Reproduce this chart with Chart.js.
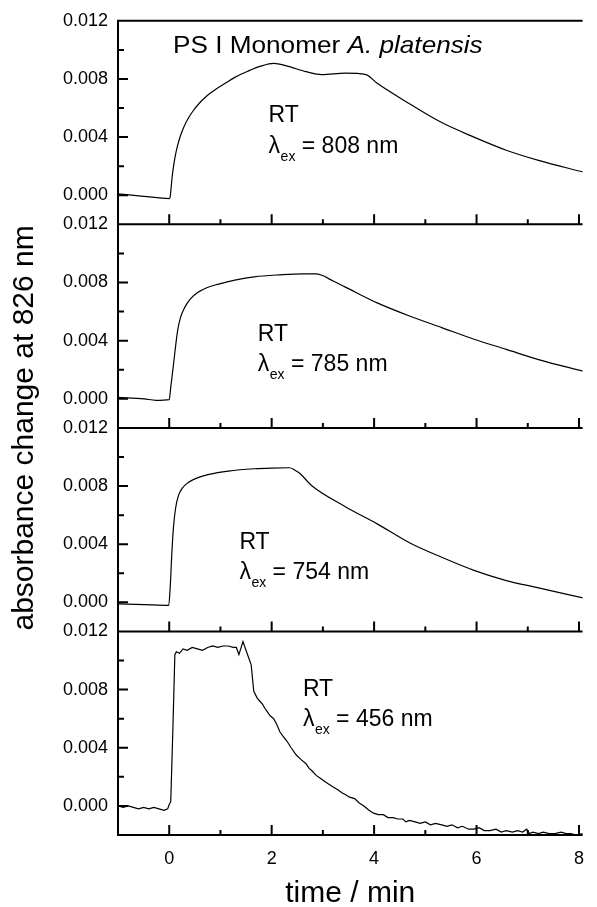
<!DOCTYPE html>
<html>
<head>
<meta charset="utf-8">
<script src="https://cdn.jsdelivr.net/npm/chart.js@4.4.0/dist/chart.umd.min.js"></script>
<style>
  html, body { margin: 0; padding: 0; background: #fff; }
  #wrap { width: 597px; height: 907px; position: relative; }
</style>
</head>
<body>
<div id="wrap"><canvas id="c"></canvas></div>
<script>
// absorbance change at 826 nm vs time, one trace per excitation wavelength
const t808 = [-1, -0.5, 0, 0.019, 0.038, 0.057, 0.082, 0.12, 0.164, 0.221, 0.29, 0.366, 0.461, 0.587, 0.744, 0.902, 1.092, 1.281, 1.533, 1.786, 2.04, 2.29, 2.67, 2.98, 3.43, 3.84, 4.06, 4.69, 5.32, 5.95, 6.58, 7.21, 8.08];
const a808 = [0.0001, -0.00007, -0.00023, -0.0001, 0.00057, 0.00126, 0.00194, 0.00274, 0.00343, 0.00411, 0.00473, 0.00526, 0.00578, 0.00633, 0.00686, 0.00727, 0.0077, 0.00811, 0.00853, 0.00888, 0.00907, 0.0089, 0.0085, 0.0083, 0.0084, 0.0083, 0.0077, 0.0063, 0.0050, 0.0040, 0.0031, 0.0024, 0.0016];

const t785 = [-1, -0.49, -0.26, 0, 0.03, 0.069, 0.114, 0.164, 0.221, 0.303, 0.41, 0.555, 0.744, 0.965, 1.281, 1.66, 2.16, 2.6, 2.85, 2.98, 3.2, 3.43, 4.06, 4.69, 5.32, 5.95, 6.58, 7.21, 8.08];
const a785 = [0.0001, 0.0, -0.0001, -0.00005, 0.0008, 0.00194, 0.00331, 0.00469, 0.0056, 0.00629, 0.00686, 0.00731, 0.00766, 0.00789, 0.00816, 0.00839, 0.00853, 0.0086, 0.0086, 0.0085, 0.0081, 0.0077, 0.0066, 0.0057, 0.0049, 0.0041, 0.0034, 0.0027, 0.0019];

const t754 = [-1, -0.49, -0.01, 0.019, 0.05, 0.082, 0.126, 0.177, 0.252, 0.366, 0.524, 0.776, 1.155, 1.66, 2.0, 2.35, 2.45, 2.54, 2.79, 3.43, 4.06, 4.69, 5.32, 5.95, 6.58, 7.21, 8.08];
const a754 = [-0.0001, -0.00015, -0.0002, 0.00103, 0.00331, 0.00514, 0.00651, 0.00731, 0.00784, 0.00823, 0.00853, 0.0088, 0.00903, 0.00919, 0.00924, 0.00926, 0.0091, 0.0089, 0.0080, 0.0066, 0.0054, 0.0041, 0.0031, 0.0022, 0.0015, 0.0010, 0.0003];

const t456 = [-1, -0.9, -0.8, -0.7, -0.6, -0.5, -0.4, -0.3, -0.2, -0.1, -0.03, 0.0, 0.03, 0.07, 0.11, 0.14, 0.2, 0.27, 0.35, 0.45, 0.55, 0.65, 0.75, 0.85, 0.95, 1.05, 1.15, 1.25, 1.31, 1.36, 1.44, 1.53, 1.6, 1.65, 1.72, 1.77, 1.82, 1.87, 1.91, 1.97, 2.04, 2.1, 2.16, 2.22, 2.29, 2.38, 2.48, 2.57, 2.67, 2.73, 2.79, 2.87, 2.95, 3.03, 3.11, 3.2, 3.3, 3.37, 3.43, 3.52, 3.62, 3.71, 3.8, 3.9, 3.99, 4.08, 4.18, 4.27, 4.37, 4.46, 4.56, 4.62, 4.69, 4.8, 4.9, 5.0, 5.1, 5.2, 5.32, 5.42, 5.52, 5.63, 5.72, 5.85, 5.95, 6.05, 6.15, 6.26, 6.38, 6.48, 6.58, 6.7, 6.8, 6.9, 6.98, 7.03, 7.1, 7.21, 7.3, 7.42, 7.53, 7.65, 7.75, 7.84, 7.95, 8.08];
const a456 = [0.0000, -0.0001, 0.0000, -0.0001, -0.0002, -0.0001, -0.0002, -0.0001, -0.0002, -0.0003, -0.0002, 0.0001, 0.0003, 0.0051, 0.0104, 0.0106, 0.0105, 0.0108, 0.0107, 0.0109, 0.0108, 0.0107, 0.0109, 0.0110, 0.0109, 0.0110, 0.0110, 0.0109, 0.0109, 0.0104, 0.0113, 0.0104, 0.0097, 0.0079, 0.0074, 0.0072, 0.0070, 0.0067, 0.0065, 0.0062, 0.0060, 0.0056, 0.0051, 0.0048, 0.0045, 0.0040, 0.0035, 0.0032, 0.0029, 0.0026, 0.0024, 0.0021, 0.0019, 0.0017, 0.0015, 0.0013, 0.0011, 0.0009, 0.0008, 0.0006, 0.0005, 0.0002, 0.0000, -0.0003, -0.0005, -0.0006, -0.0006, -0.0008, -0.0008, -0.0009, -0.0009, -0.0011, -0.0010, -0.0011, -0.0012, -0.0011, -0.0013, -0.0012, -0.0013, -0.0014, -0.0013, -0.0015, -0.0014, -0.0016, -0.0016, -0.0015, -0.0017, -0.0017, -0.0016, -0.0018, -0.0017, -0.0018, -0.0017, -0.0018, -0.0016, -0.0019, -0.0018, -0.0019, -0.0018, -0.0019, -0.0019, -0.0018, -0.0019, -0.0019, -0.0020, -0.0019];

const wavelengths = ['808', '785', '754', '456'];
const times = [t808, t785, t754, t456];
const values = [a808, a785, a754, a456];

const yTickValues = [0, 0.004, 0.008, 0.012];
const yMinorValues = [0.002, 0.006, 0.010];
const xTickValues = [0, 2, 4, 6, 8];
const xMinorValues = [1, 3, 5, 7];

const FONT = "'Liberation Sans', Arial, sans-serif";
const panelIds = ['p1', 'p2', 'p3', 'p4'];   // top to bottom

// text anchors per panel, in data units (x = min, y = absorbance)
const labelPos = [
  { x: 1.94, rt: 0.00502, lam: 0.0029 },
  { x: 1.73, rt: 0.0040, lam: 0.00194 },
  { x: 1.37, rt: 0.00365, lam: 0.00159 },
  { x: 2.61, rt: 0.00754, lam: 0.00548 }
];

const datasets = panelIds.map((id, i) => ({
  label: wavelengths[i] + ' nm',
  data: times[i].map((t, j) => ({ x: t, y: values[i][j] })),
  yAxisID: id,
  borderColor: '#000',
  borderWidth: 1.2,
  pointRadius: 0,
  fill: false,
  cubicInterpolationMode: i < 3 ? 'monotone' : 'default',
  tension: 0
}));

const scales = {
  x: {
    type: 'linear',
    min: -1,
    max: 8.07,
    afterBuildTicks: s => { s.ticks = xTickValues.map(v => ({ value: v })); },
    afterFit: s => { s.height = 72; },
    ticks: { color: '#000', font: { family: FONT, size: 18 }, padding: 13, callback: v => String(v) },
    grid: { display: false, drawTicks: false },
    border: { display: false }
  }
};
// stacked left axes are laid out last-defined-first, so add them bottom-up
panelIds.slice().reverse().forEach(id => {
  scales[id] = {
    type: 'linear',
    position: 'left',
    stack: 'panels',
    stackWeight: 1,
    min: -0.002,
    max: 0.012,
    afterBuildTicks: s => { s.ticks = yTickValues.map(v => ({ value: v })); },
    afterFit: s => { s.width = 118; },
    ticks: { color: '#000', font: { family: FONT, size: 18 }, padding: 10, autoSkip: false, callback: v => v.toFixed(3) },
    grid: { display: false, drawTicks: false },
    border: { display: false }
  };
});

function stretchText(ctx, text, x, y, font, sx) {
  ctx.save();
  ctx.font = font;
  const w = ctx.measureText(text).width * sx;
  ctx.translate(x, y);
  ctx.scale(sx, 1);
  ctx.fillText(text, 0, 0);
  ctx.restore();
  return w;
}

// box frame, inward ticks, annotations and axis titles
const framePlugin = {
  id: 'frame',
  afterDatasetsDraw(chart) {
    const { ctx, chartArea: ca, scales: sc } = chart;
    ctx.save();
    ctx.strokeStyle = '#000';
    ctx.lineWidth = 2;
    ctx.beginPath();
    ctx.moveTo(ca.left, ca.top - 1);
    ctx.lineTo(ca.left, ca.bottom + 1);
    panelIds.forEach(id => {
      const s = sc[id];
      ctx.moveTo(ca.left, s.top); ctx.lineTo(ca.right, s.top);
      ctx.moveTo(ca.left, s.bottom); ctx.lineTo(ca.right, s.bottom);
      yTickValues.forEach(v => {
        const y = s.getPixelForValue(v);
        ctx.moveTo(ca.left, y); ctx.lineTo(ca.left + 10, y);
      });
      yMinorValues.forEach(v => {
        const y = s.getPixelForValue(v);
        ctx.moveTo(ca.left, y); ctx.lineTo(ca.left + 6, y);
      });
      xTickValues.forEach(v => {
        const x = sc.x.getPixelForValue(v);
        ctx.moveTo(x, s.bottom); ctx.lineTo(x, s.bottom - 10);
      });
      xMinorValues.forEach(v => {
        const x = sc.x.getPixelForValue(v);
        ctx.moveTo(x, s.bottom); ctx.lineTo(x, s.bottom - 5);
      });
    });
    ctx.stroke();

    ctx.fillStyle = '#000';
    ctx.textBaseline = 'alphabetic';
    ctx.textAlign = 'left';

    // sample title in the top panel
    const p1 = sc[panelIds[0]];
    let tx = sc.x.getPixelForValue(0.074);
    const ty = p1.getPixelForValue(0.00978);
    tx += stretchText(ctx, 'PS I Monomer ', tx, ty, '24px ' + FONT, 1.09);
    stretchText(ctx, 'A. platensis', tx, ty, 'italic 24px ' + FONT, 1.09);

    panelIds.forEach((id, i) => {
      const s = sc[id];
      const pos = labelPos[i];
      let x = sc.x.getPixelForValue(pos.x);
      stretchText(ctx, 'RT', x, s.getPixelForValue(pos.rt), '23px ' + FONT, 1);
      const ly = s.getPixelForValue(pos.lam);
      x += stretchText(ctx, '\u03bb', x, ly, '23px ' + FONT, 1) + 0.5;
      x += stretchText(ctx, 'ex', x, ly + 8, '14px ' + FONT, 1);
      stretchText(ctx, ' = ' + wavelengths[i] + ' nm', x, ly, '23px ' + FONT, 1);
    });

    ctx.textAlign = 'center';
    ctx.font = '30px ' + FONT;
    ctx.fillText('time / min', (ca.left + ca.right) / 2, 902);

    ctx.translate(33, (ca.top + ca.bottom) / 2);
    ctx.rotate(-Math.PI / 2);
    ctx.fillText('absorbance change at 826 nm', 0, 0);
    ctx.restore();
  }
};

new Chart(document.getElementById('c'), {
  type: 'line',
  data: { datasets },
  options: {
    responsive: true,
    maintainAspectRatio: false,
    animation: false,
    layout: { padding: { top: 19, left: 0, right: 0, bottom: 0 } },
    plugins: { legend: { display: false }, tooltip: { enabled: false }, title: { display: false } },
    scales
  },
  plugins: [framePlugin]
});
</script>
</body>
</html>
